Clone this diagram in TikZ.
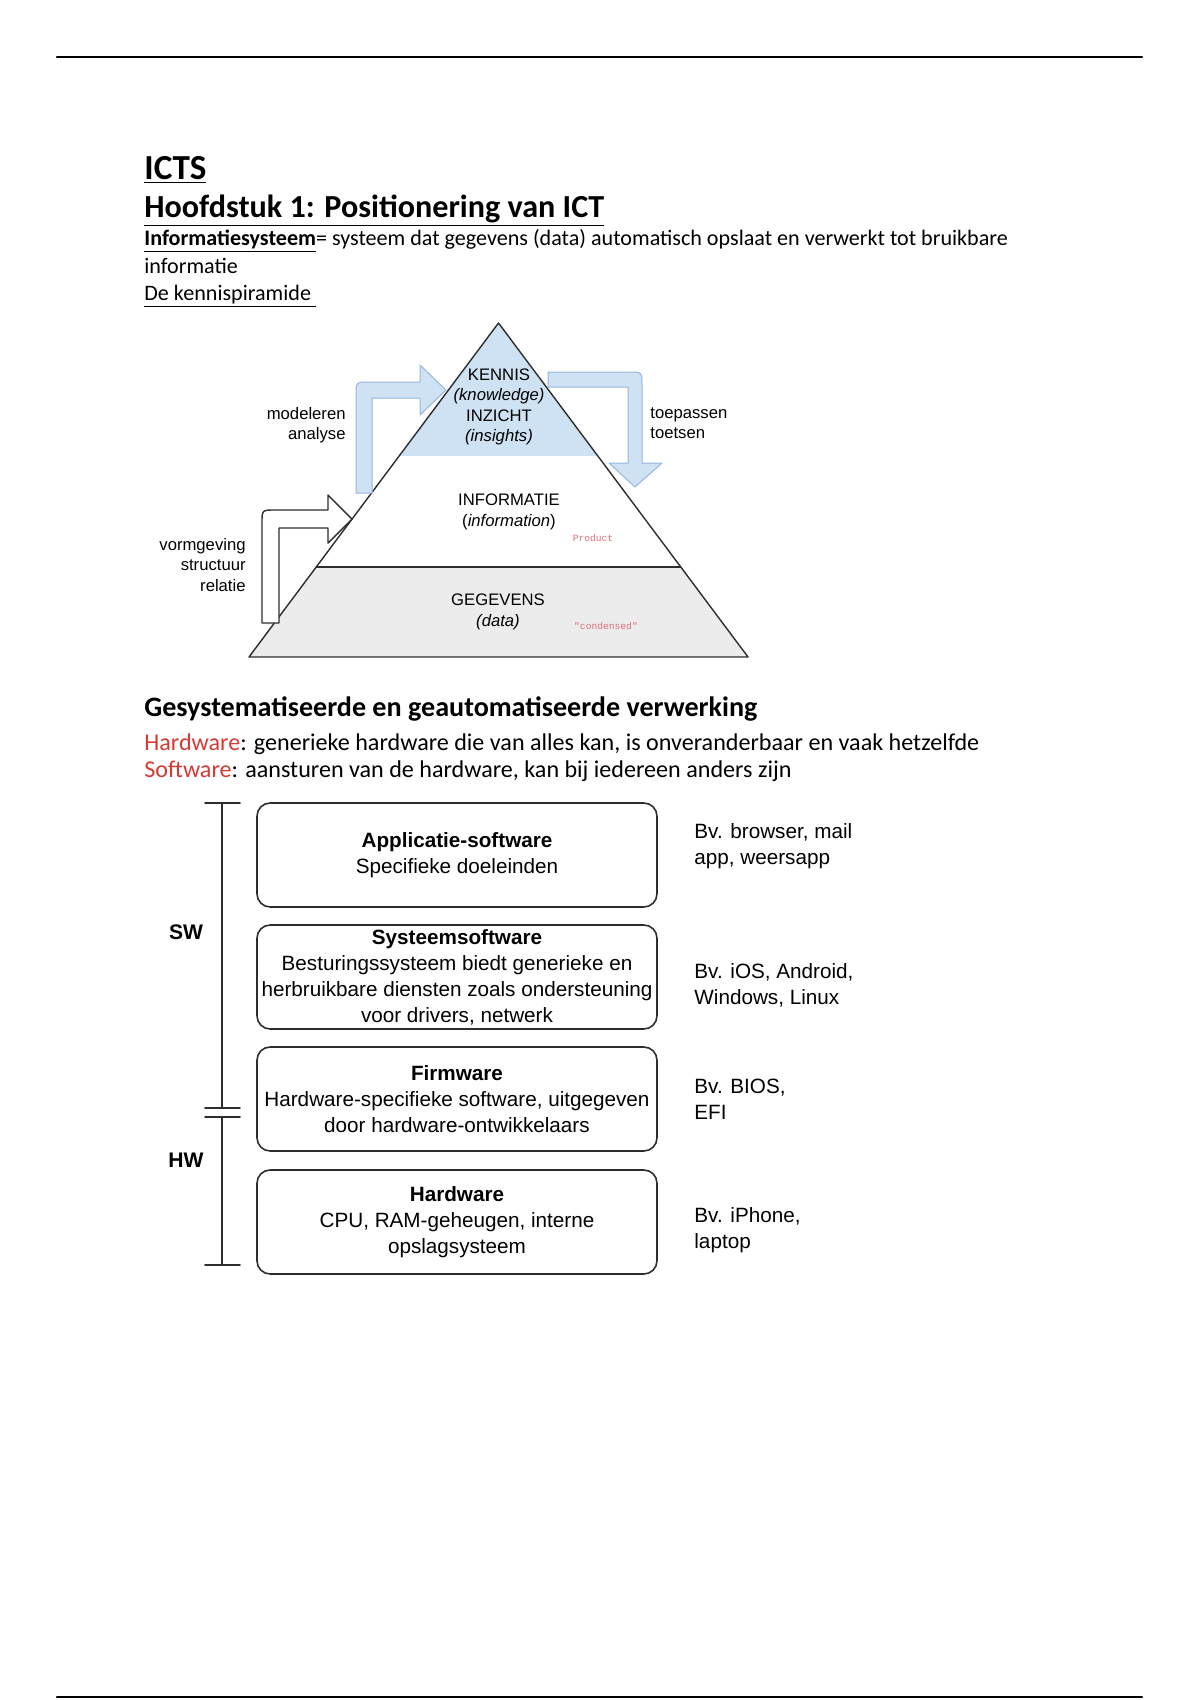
\documentclass[tikz,border=0pt]{standalone}
\usepackage{fontspec}
\setmainfont{Carlito}
\newfontfamily\arialfont{Liberation Sans}
\newfontfamily\notefont{Liberation Mono}
\usetikzlibrary{calc}

\definecolor{wordred}{RGB}{214,58,52}
\definecolor{kennisblue}{RGB}{207,226,243}
\definecolor{arrowblue}{RGB}{150,182,222}
\definecolor{datagray}{RGB}{236,236,236}
\definecolor{pencil}{RGB}{45,45,45}
\definecolor{notered}{RGB}{222,110,120}

\tikzset{
  txt/.style={anchor=base west, inner sep=0pt},
  pyrtxt/.style={inner sep=0pt, align=center, font=\arialfont\fontsize{8.3}{10.2}\selectfont},
  sidetxt/.style={inner sep=0pt, font=\arialfont\fontsize{8.3}{10.2}\selectfont},
  notetxt/.style={inner sep=0pt, text=notered, font=\notefont\fontsize{4.8}{5}\selectfont},
  layer/.style={draw=pencil, line width=0.8pt, rounded corners=2.3mm, minimum width=7cm,
    minimum height=1.82cm, align=center, inner sep=0pt,
    font=\arialfont\fontsize{10.3}{12.9}\selectfont},
  example/.style={anchor=west, align=left, inner sep=0pt,
    font=\arialfont\fontsize{10.3}{12.9}\selectfont},
  bluearrow/.style={fill=kennisblue, draw=arrowblue, line width=0.5pt, line join=round},
  whitearrow/.style={fill=white, draw=pencil, line width=0.7pt, line join=round}
}

\begin{document}
\begin{tikzpicture}[x=0.0175cm, y=-0.0175cm, line join=round, line cap=round]
\useasboundingbox (0,0) rectangle (1200,1700);

% page rules
\draw[line width=1.1pt] (57,57) -- (1142,57);
\draw[line width=1.1pt] (57,1697) -- (1142,1697);

% headings and text
\node[txt, font=\fontsize{17.5}{20}\selectfont\bfseries] (ttl) at (144,179) {\underline{ICTS}};
\node[txt, font=\fontsize{16}{19}\selectfont\bfseries] (chap) at (144,217) {\underline{Hoofdstuk 1: Positionering van ICT}};
\node[txt, font=\fontsize{11}{13.5}\selectfont] (defn) at (144,245) {\underline{\textbf{Informatiesysteem}}= systeem dat gegevens (data) automatisch opslaat en verwerkt tot bruikbare};
\node[txt, font=\fontsize{11}{13.5}\selectfont] (defn2) at (144,273) {informatie};
\node[txt, font=\fontsize{11}{13.5}\selectfont] (pyrtitle) at (144,300) {\underline{De kennispiramide\ }};

% the pyramid
\coordinate (apex) at (498.5,323);
\coordinate (bl) at (249,657);
\coordinate (br) at (748,657);
\coordinate (kl) at ($(apex)!0.398!(bl)$);
\coordinate (kr) at ($(apex)!0.398!(br)$);
\coordinate (il) at ($(apex)!0.7305!(bl)$);
\coordinate (ir) at ($(apex)!0.7305!(br)$);

\fill[kennisblue] (apex) -- (kl) -- (kr) -- cycle;
\fill[datagray] (il) -- (bl) -- (br) -- (ir) -- cycle;
\draw[pencil, line width=0.7pt] (apex) -- (bl) -- (br) -- cycle;
\draw[pencil, line width=0.7pt] (il) -- (ir);

\node[pyrtxt] (kennis) at (499,407) {KENNIS\\\textit{(knowledge)}\\INZICHT\\\textit{(insights)}};
\node[pyrtxt] (info) at (509,512) {INFORMATIE\\(\textit{information})};
\node[pyrtxt] (data) at (498,612) {GEGEVENS\\\textit{(data)}};
\node[notetxt] (product) at (593,538) {Product};
\node[notetxt] (condensed) at (606,626) {"condensed"};

% bent arrows
\draw[bluearrow] (356,493) -- (356,395) .. controls (356,382) .. (369,382) -- (420,382)
  -- (420,365) -- (446,390) -- (420,415) -- (420,398) -- (372,398) -- (372,493) -- cycle;
\draw[bluearrow] (548,372) -- (629,372) .. controls (642,372) .. (642,385) -- (642,463)
  -- (662,463) -- (635,487) -- (609,463) -- (628,463) -- (628,387) -- (548,387) -- cycle;
\draw[whitearrow] (262,623) -- (262,523) .. controls (262,510) .. (275,510) -- (328,510)
  -- (328,495) -- (352,519) -- (328,543) -- (328,528) -- (279,528) -- (279,623) -- cycle;

\node[sidetxt, anchor=east, align=right] (modeleren) at (346,425) {modeleren\\analyse};
\node[sidetxt, anchor=west, align=left] (toepassen) at (650,423) {toepassen\\toetsen};
\node[sidetxt, anchor=east, align=right] (vormgeving) at (246,565) {vormgeving\\structuur\\relatie};

% second section
\node[txt, font=\fontsize{14}{17}\selectfont\bfseries] (sec) at (144,716) {Gesystematiseerde en geautomatiseerde verwerking};
\node[txt, font=\fontsize{12}{14.5}\selectfont] (hwline) at (144,750) {\textcolor{wordred}{Hardware}: generieke hardware die van alles kan, is onveranderbaar en vaak hetzelfde};
\node[txt, font=\fontsize{12}{14.5}\selectfont] (swline) at (144,777) {\textcolor{wordred}{Software}: aansturen van de hardware, kan bij iedereen anders zijn};

% layers
\node[layer] (app) at (457,855) {\textbf{Applicatie-software}\\Specifieke doeleinden};
\node[layer] (sys) at (457,977) {\textbf{Systeemsoftware}\\Besturingssysteem biedt generieke en\\herbruikbare diensten zoals ondersteuning\\voor drivers, netwerk};
\node[layer] (firm) at (457,1099) {\textbf{Firmware}\\Hardware-specifieke software, uitgegeven\\door hardware-ontwikkelaars};
\node[layer] (hw) at (457,1222) {\textbf{Hardware}\\CPU, RAM-geheugen, interne\\opslagsysteem};

\node[example] (appex) at (694,846) {Bv. browser, mail\\app, weersapp};
\node[example] (sysex) at (694,985) {Bv. iOS, Android,\\Windows, Linux};
\node[example] (firmex) at (694,1099) {Bv. BIOS,\\EFI};
\node[example] (hwex) at (694,1230) {Bv. iPhone,\\laptop};

% SW / HW bracket
\draw[pencil, line width=0.8pt] (222,803) -- (222,1108);
\draw[pencil, line width=0.8pt] (222,1117) -- (222,1265);
\foreach \yy in {803,1108,1117,1265}
  \draw[pencil, line width=0.8pt] (205,\yy) -- (240,\yy);
\node[inner sep=0pt, font=\arialfont\fontsize{10.5}{12}\selectfont\bfseries] (sw) at (186,932) {SW};
\node[inner sep=0pt, font=\arialfont\fontsize{10.5}{12}\selectfont\bfseries] (hwlab) at (186,1160) {HW};
\end{tikzpicture}
\end{document}
